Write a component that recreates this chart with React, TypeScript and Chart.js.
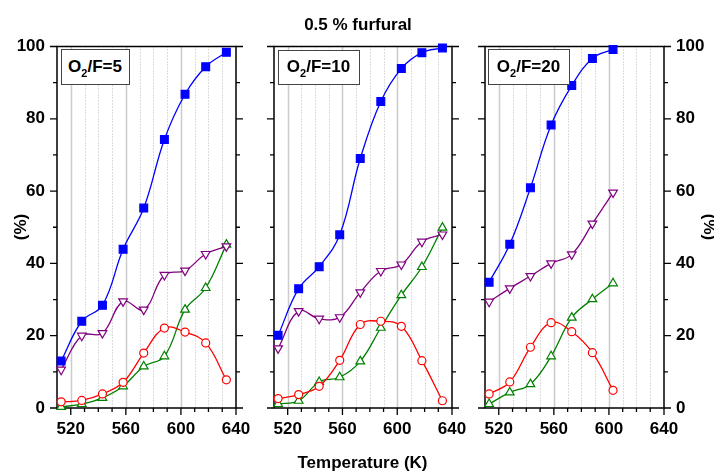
import React, { useEffect, useRef } from 'react';
import { Chart, registerables } from 'chart.js';

Chart.register(...registerables);

const FONT = '"Liberation Sans", Arial, Helvetica, sans-serif';

// ---- data ----
const temps = [513, 528, 543, 558, 573, 588, 603, 618, 633];
const tempsShort = [513, 528, 543, 558, 573, 588, 603];

const blue5 = [13, 24, 28.4, 43.9, 55.3, 74.3, 86.8, 94.4, 98.4];
const purple5 = [10.6, 20, 20.7, 29.5, 27.2, 36.8, 38, 42.6, 44.7];
const red5 = [1.7, 2.1, 3.9, 7.1, 15.2, 22.1, 21, 18, 7.8];
const green5 = [0.3, 1.1, 2.8, 6, 11.5, 14.3, 27.2, 33.2, 45.2];

const blue10 = [20.1, 33, 39.1, 47.9, 69, 84.8, 93.9, 98.3, 99.6];
const purple10 = [16.5, 26.8, 24.7, 25.1, 32, 37.9, 39.7, 46, 48];
const red10 = [2.6, 3.7, 6, 13.2, 23.1, 24, 22.6, 13.1, 2];
const green10 = [1.1, 2, 7.2, 8.5, 12.9, 22.2, 31.2, 39, 49.9];

const blue20 = [34.8, 45.3, 60.9, 78.3, 89.2, 96.7, 99.2];
const purple20 = [29.4, 33.1, 36.5, 40, 42.5, 51, 59.6];
const red20 = [3.9, 7.2, 16.8, 23.6, 21.1, 15.3, 4.9];
const green20 = [1.1, 4.3, 6.6, 14.3, 25, 30.1, 34.5];

const ratioLabels = ['5', '10', '20'];
const chartTitle = '0.5 % furfural';
const xTitle = 'Temperature (K)';
const yTitle = '(%)';

const xTickLabels = [520, 560, 600, 640];
const xTickMarks = [520, 530, 540, 550, 560, 570, 580, 590, 600, 610, 620, 630, 640];
const yTickLabels = [0, 20, 40, 60, 80, 100];
const yTickMarks = [0, 10, 20, 30, 40, 50, 60, 70, 80, 90, 100];

// ---- styles ----
const seriesStyles = [
  { color: '#0000ff', pointStyle: 'rect', radius: 5.5, fill: '#0000ff', rotation: 0 },
  { color: '#800080', pointStyle: 'triangle', radius: 5, fill: '#ffffff', rotation: 180 },
  { color: '#ff0000', pointStyle: 'circle', radius: 4, fill: '#ffffff', rotation: 0 },
  { color: '#008000', pointStyle: 'triangle', radius: 5, fill: '#ffffff', rotation: 0 },
];

const panels = [
  { x: temps, series: [blue5, purple5, red5, green5], left: 57, right: 236, leftLabels: true, rightLabels: false, boxLeft: 60.5, boxTop: 49, boxW: 69, boxH: 36 },
  { x: temps, series: [blue10, purple10, red10, green10], left: 274, right: 452, leftLabels: false, rightLabels: false, boxLeft: 277.5, boxTop: 49.5, boxW: 82, boxH: 35.5 },
  { x: tempsShort, series: [blue20, purple20, red20, green20], left: 485, right: 664, leftLabels: false, rightLabels: true, boxLeft: 487.5, boxTop: 49, boxW: 82, boxH: 36 },
];

const W = 714;
const H = 474;
const TOP = 46.5;
const BOTTOM = 408;
const Y_AXIS_W = 57;
const Y2_AXIS_W = 50;
const X_AXIS_H = 30;

const framePlugin = {
  id: 'framePlugin',
  beforeDatasetsDraw(chart: any) {
    const { ctx, chartArea: a, scales } = chart;
    const xs = scales.x;
    const ys = scales.y;
    ctx.save();
    ctx.beginPath();
    ctx.rect(a.left, a.top, a.right - a.left, a.bottom - a.top);
    ctx.clip();
    for (const v of xTickMarks) {
      if (v >= 640) continue;
      const px = Math.round(xs.getPixelForValue(v)) + 0.5;
      const major = v % 40 === 0;
      ctx.beginPath();
      ctx.setLineDash(major ? [] : [1, 2]);
      ctx.strokeStyle = major ? '#cccccc' : '#b8b8b8';
      ctx.lineWidth = major ? 1.5 : 1;
      ctx.moveTo(px, a.top);
      ctx.lineTo(px, a.bottom);
      ctx.stroke();
    }
    ctx.restore();

    ctx.save();
    ctx.setLineDash([]);
    ctx.strokeStyle = '#000';
    ctx.lineWidth = 1.5;
    ctx.strokeRect(a.left, a.top, a.right - a.left, a.bottom - a.top);
    ctx.lineWidth = 1.3;
    ctx.beginPath();
    for (const v of xTickMarks) {
      const px = xs.getPixelForValue(v);
      const len = v % 40 === 0 ? 7 : 4;
      ctx.moveTo(px, a.bottom);
      ctx.lineTo(px, a.bottom + len);
    }
    for (const v of yTickMarks) {
      const py = ys.getPixelForValue(v);
      const len = v % 20 === 0 ? 7 : 4;
      ctx.moveTo(a.left, py);
      ctx.lineTo(a.left - len, py);
      ctx.moveTo(a.right, py);
      ctx.lineTo(a.right + len, py);
    }
    ctx.stroke();
    ctx.restore();
  },
};

function Panel({ idx }: { idx: number }) {
  const ref = useRef<HTMLCanvasElement | null>(null);
  useEffect(() => {
    const p = panels[idx];
    const canvas = ref.current;
    if (!canvas) return;
    const font = { family: FONT, size: 17, weight: 'bold' as const };
    const datasets = p.series.map((vals, si) => {
      const s = seriesStyles[si];
      return {
        data: p.x.map((t, i) => ({ x: t, y: vals[i] })),
        borderColor: s.color,
        backgroundColor: s.fill,
        borderWidth: 1.3,
        pointStyle: s.pointStyle,
        pointRadius: s.radius,
        pointRotation: s.rotation,
        pointBorderColor: s.color,
        pointBackgroundColor: s.fill,
        pointBorderWidth: 1.2,
        tension: 0.4,
        clip: false,
      };
    });
    const scales: any = {
      x: {
        type: 'linear',
        min: 510,
        max: 640,
        afterBuildTicks: (s: any) => {
          s.ticks = xTickLabels.map((v) => ({ value: v }));
        },
        afterFit: (s: any) => {
          s.height = X_AXIS_H;
        },
        ticks: { font, color: '#000', padding: 11, maxRotation: 0, autoSkip: false, callback: (v: any) => String(v) },
        grid: { display: false, drawTicks: false },
        border: { display: false },
      },
      y: {
        position: 'left',
        min: 0,
        max: 100,
        afterBuildTicks: (s: any) => {
          s.ticks = yTickLabels.map((v) => ({ value: v }));
        },
        afterFit: (s: any) => {
          s.width = Y_AXIS_W;
        },
        ticks: { display: p.leftLabels, font, color: '#000', padding: 12, callback: (v: any) => String(v) },
        grid: { display: false, drawTicks: false },
        border: { display: false },
      },
    };
    if (p.rightLabels) {
      scales.y2 = {
        position: 'right',
        min: 0,
        max: 100,
        afterBuildTicks: (s: any) => {
          s.ticks = yTickLabels.map((v) => ({ value: v }));
        },
        afterFit: (s: any) => {
          s.width = Y2_AXIS_W;
        },
        ticks: { font, color: '#000', padding: 12, callback: (v: any) => String(v) },
        grid: { display: false, drawTicks: false },
        border: { display: false },
      };
    }
    const chart = new Chart(canvas, {
      type: 'line',
      data: { datasets } as any,
      options: {
        responsive: false,
        animation: false,
        devicePixelRatio: 1,
        layout: {
          padding: {
            left: p.left - Y_AXIS_W,
            right: p.rightLabels ? W - p.right - Y2_AXIS_W : W - p.right,
            top: TOP,
            bottom: H - BOTTOM - X_AXIS_H,
          },
        },
        plugins: { legend: { display: false }, tooltip: { enabled: false }, title: { display: false } },
        scales,
      } as any,
      plugins: [framePlugin],
    });
    return () => chart.destroy();
  }, [idx]);
  return (
    <canvas
      ref={ref}
      width={W}
      height={H}
      style={{ position: 'absolute', left: 0, top: 0, width: W, height: H, pointerEvents: 'none' }}
    />
  );
}

const textBase: React.CSSProperties = {
  position: 'absolute',
  fontFamily: FONT,
  fontWeight: 'bold',
  fontSize: 17,
  color: '#000',
  whiteSpace: 'nowrap',
};

export default function App() {
  return (
    <div style={{ position: 'absolute', left: 0, top: 0, width: W, height: H, background: '#fff', overflow: 'hidden' }}>
      {panels.map((_, i) => (
        <Panel key={i} idx={i} />
      ))}
      {panels.map((p, i) => (
        <div
          key={'box' + i}
          style={{
            ...textBase,
            left: p.boxLeft,
            top: p.boxTop,
            width: p.boxW,
            height: p.boxH,
            boxSizing: 'border-box',
            border: '1.3px solid #444',
            background: '#fff',
            lineHeight: p.boxH - 2.6 + 'px',
            textAlign: 'center',
          }}
        >
          O<span style={{ fontSize: 11, position: 'relative', top: 5 }}>2</span>/F={ratioLabels[i]}
        </div>
      ))}
      <div style={{ ...textBase, left: 0, top: 14.5, width: 716, lineHeight: '20px', textAlign: 'center' }}>{chartTitle}</div>
      <div style={{ ...textBase, left: 262.5, top: 453, width: 200, lineHeight: '20px', textAlign: 'center' }}>{xTitle}</div>
      <div
        style={{
          ...textBase,
          left: 21 - 30,
          top: 226.5 - 10,
          width: 60,
          lineHeight: '20px',
          textAlign: 'center',
          transform: 'rotate(-90deg)',
        }}
      >
        {yTitle}
      </div>
      <div
        style={{
          ...textBase,
          left: 709 - 30,
          top: 226.5 - 10,
          width: 60,
          lineHeight: '20px',
          textAlign: 'center',
          transform: 'rotate(90deg)',
        }}
      >
        {yTitle}
      </div>
    </div>
  );
}
